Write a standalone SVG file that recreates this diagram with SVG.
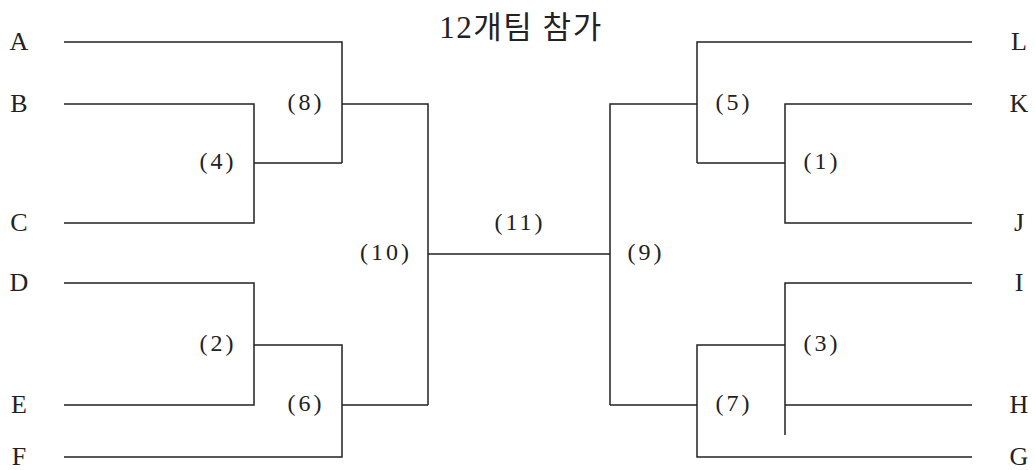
<svg xmlns="http://www.w3.org/2000/svg" width="1035" height="470" viewBox="0 0 1035 470">
<style>
.ln{stroke:#222;stroke-width:1.5;fill:none}
.t{font-family:"Liberation Serif","Noto Sans CJK KR",serif;font-size:24px;fill:#222;dominant-baseline:central;text-anchor:middle}
.tm{font-size:26px}
.p{letter-spacing:3px}
.title{font-family:"Liberation Serif","Noto Sans CJK KR",serif;font-size:31px;fill:#222;text-anchor:middle;letter-spacing:1.5px}
</style>
<rect width="1035" height="470" fill="#fff"/>
<text class="title" x="521" y="38">12개팀 참가</text>
<g id="connectors">
<path class="ln" d="M64 42H342V163M64 104H254V223H64M254 163H342M342 104H428V405M64 283H254V405H64M254 345H342V457H64M342 405H428M428 254H610"/>
<path class="ln" d="M972 42H697V163M972 104H785V223H972M785 163H697M697 104H610V405M972 283H785V435M785 405H972M785 345H697V457H972M697 405H610"/>
</g>
<g id="teams">
<text id="A" class="t tm" x="19" y="41">A</text>
<text id="B" class="t tm" x="19" y="103">B</text>
<text id="C" class="t tm" x="19" y="222">C</text>
<text id="D" class="t tm" x="19" y="282">D</text>
<text id="E" class="t tm" x="19" y="404">E</text>
<text id="F" class="t tm" x="19" y="456">F</text>
<text id="L" class="t tm" x="1019" y="41">L</text>
<text id="K" class="t tm" x="1019" y="103">K</text>
<text id="J" class="t tm" x="1019" y="222">J</text>
<text id="I" class="t tm" x="1019" y="282">I</text>
<text id="H" class="t tm" x="1019" y="404">H</text>
<text id="G" class="t tm" x="1019" y="456">G</text>
</g>
<g id="matches">
<text id="m8" class="t p" x="306" y="102">(8)</text>
<text id="m4" class="t p" x="218" y="161">(4)</text>
<text id="m2" class="t p" x="218" y="343">(2)</text>
<text id="m6" class="t p" x="306" y="403">(6)</text>
<text id="m10" class="t p" x="386" y="252">(10)</text>
<text id="m11" class="t p" x="520" y="222">(11)</text>
<text id="m9" class="t p" x="646" y="252">(9)</text>
<text id="m5" class="t p" x="734" y="102">(5)</text>
<text id="m1" class="t p" x="822" y="161">(1)</text>
<text id="m3" class="t p" x="822" y="343">(3)</text>
<text id="m7" class="t p" x="734" y="403">(7)</text>
</g>
</svg>
